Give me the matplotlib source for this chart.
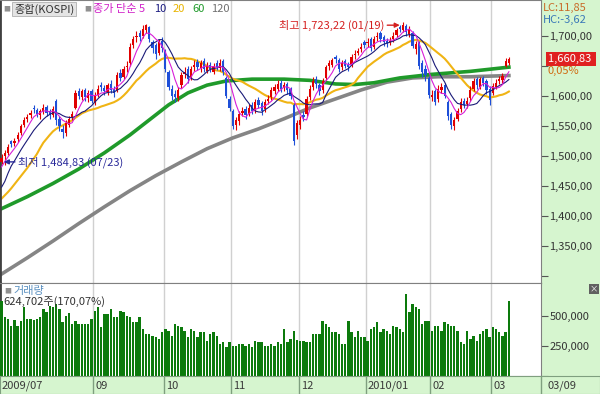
import numpy as np
import pandas as pd
import matplotlib
matplotlib.use("Agg")
import matplotlib.pyplot as plt

plt.rcParams['font.family'] = ['Noto Sans CJK KR', 'DejaVu Sans']

# ---- data (KOSPI daily, 2009-07-22 .. 2010-03-09) ----
opens = ([1490, 1500, 1505, 1524, 1522, 1528, 1538, 1552] +
         [1562, 1568, 1580, 1576, 1568, 1574, 1582, 1575, 1568, 1592, 1562, 1545, 1538, 1552, 1565, 1580, 1608, 1598, 1610, 1596, 1608] +
         [1590, 1602, 1618, 1614, 1606, 1620, 1612, 1610, 1638, 1632, 1648, 1655, 1685, 1698, 1705, 1700, 1710, 1715, 1690, 1685, 1672, 1692] +
         [1675, 1640, 1612, 1604, 1596, 1618, 1636, 1645, 1630, 1648, 1656, 1646, 1658, 1642, 1652, 1640, 1655, 1646, 1658, 1630, 1595] +
         [1575, 1552, 1558, 1572, 1578, 1570, 1585, 1577, 1594, 1588, 1578, 1592, 1598, 1608, 1612, 1622, 1614, 1620, 1612, 1585, 1535] +
         [1552, 1568, 1570, 1598, 1615, 1628, 1618, 1610, 1630, 1650, 1652, 1665, 1660, 1648, 1658, 1652, 1652, 1668, 1672, 1678, 1690] +
         [1688, 1695, 1682, 1698, 1705, 1698, 1692, 1690, 1695, 1702, 1715, 1710, 1716, 1704, 1705, 1678, 1690, 1655, 1645, 1630] +
         [1598, 1608, 1595, 1610, 1618, 1590, 1570, 1550, 1562, 1578, 1592, 1586, 1596, 1612, 1628, 1615, 1630, 1625, 1612] +
         [1605, 1615, 1625, 1626, 1650, 1655])
closes = ([1497, 1505, 1515, 1520, 1525, 1535, 1550, 1560] +
          [1565, 1572, 1578, 1570, 1575, 1580, 1572, 1570, 1578, 1560, 1550, 1540, 1555, 1562, 1570, 1605, 1600, 1608, 1598, 1605, 1592] +
          [1600, 1612, 1615, 1608, 1618, 1610, 1605, 1635, 1630, 1645, 1650, 1682, 1695, 1700, 1698, 1712, 1718, 1695, 1680, 1670, 1690, 1680] +
          [1645, 1615, 1600, 1598, 1610, 1635, 1640, 1628, 1645, 1652, 1648, 1655, 1645, 1650, 1645, 1650, 1648, 1655, 1640, 1600, 1580] +
          [1550, 1560, 1570, 1575, 1568, 1580, 1575, 1590, 1585, 1575, 1590, 1595, 1610, 1615, 1620, 1612, 1618, 1610, 1600, 1525, 1555] +
          [1560, 1565, 1595, 1612, 1625, 1620, 1608, 1625, 1648, 1655, 1660, 1662, 1645, 1655, 1650, 1648, 1665, 1670, 1675, 1682, 1685] +
          [1690, 1680, 1695, 1700, 1695, 1690, 1688, 1692, 1700, 1710, 1712, 1718, 1706, 1712, 1684, 1686, 1650, 1640, 1635, 1602] +
          [1602, 1590, 1612, 1615, 1600, 1567, 1552, 1560, 1575, 1590, 1585, 1592, 1610, 1625, 1618, 1628, 1622, 1610, 1594] +
          [1617, 1622, 1628, 1633, 1658, 1660.83])
highs = ([1503, 1510, 1519, 1527, 1530, 1540, 1553, 1565] +
         [1570, 1577, 1585, 1580, 1578, 1586, 1585, 1579, 1583, 1595, 1566, 1552, 1560, 1566, 1575, 1610, 1613, 1612, 1614, 1610, 1612] +
         [1606, 1618, 1624, 1619, 1622, 1626, 1616, 1640, 1645, 1650, 1658, 1688, 1700, 1708, 1710, 1718, 1720, 1716, 1694, 1688, 1695, 1698] +
         [1678, 1644, 1618, 1610, 1615, 1640, 1648, 1650, 1650, 1660, 1662, 1660, 1663, 1656, 1657, 1655, 1660, 1662, 1662, 1633, 1600] +
         [1578, 1565, 1575, 1582, 1583, 1586, 1590, 1595, 1598, 1592, 1595, 1602, 1615, 1620, 1626, 1627, 1624, 1624, 1615, 1588, 1560] +
         [1566, 1575, 1600, 1618, 1632, 1633, 1622, 1630, 1652, 1660, 1664, 1668, 1663, 1660, 1662, 1656, 1670, 1676, 1680, 1688, 1694] +
         [1696, 1698, 1700, 1706, 1708, 1702, 1696, 1698, 1706, 1714, 1719, 1723.22, 1720, 1716, 1708, 1692, 1692, 1660, 1652, 1634] +
         [1610, 1612, 1618, 1622, 1622, 1594, 1573, 1565, 1580, 1596, 1597, 1598, 1616, 1630, 1632, 1632, 1634, 1628, 1616] +
         [1622, 1628, 1634, 1638, 1664, 1665])
lows = ([1486, 1484.83, 1501, 1515, 1517, 1524, 1535, 1548] +
        [1556, 1563, 1572, 1565, 1562, 1570, 1566, 1562, 1565, 1552, 1541, 1530, 1533, 1548, 1560, 1578, 1595, 1594, 1592, 1590, 1588] +
        [1585, 1598, 1608, 1602, 1602, 1605, 1598, 1606, 1625, 1628, 1640, 1650, 1680, 1690, 1692, 1696, 1705, 1690, 1672, 1662, 1668, 1674] +
        [1640, 1610, 1594, 1590, 1592, 1614, 1630, 1622, 1626, 1642, 1643, 1640, 1640, 1638, 1640, 1636, 1643, 1642, 1635, 1596, 1575] +
        [1545, 1543, 1552, 1566, 1562, 1566, 1570, 1572, 1580, 1568, 1574, 1586, 1594, 1603, 1608, 1606, 1608, 1604, 1595, 1518, 1528] +
        [1545, 1558, 1566, 1594, 1610, 1614, 1602, 1605, 1626, 1644, 1648, 1655, 1640, 1644, 1646, 1642, 1648, 1662, 1668, 1674, 1680] +
        [1682, 1675, 1678, 1692, 1690, 1684, 1682, 1685, 1690, 1698, 1706, 1706, 1700, 1698, 1680, 1670, 1645, 1632, 1625, 1596] +
        [1592, 1585, 1590, 1605, 1596, 1560, 1545, 1544, 1558, 1574, 1580, 1580, 1592, 1608, 1612, 1612, 1616, 1604, 1585] +
        [1602, 1612, 1620, 1622, 1648, 1652])
# volume, thousands of shares
volume_k = ([625, 486, 472, 417, 464, 417, 458, 569] +
            [472, 472, 464, 472, 486, 556, 528, 583, 569, 597, 556, 444, 500, 519, 431, 458, 431, 431, 431, 431, 472] +
            [542, 575, 403, 514, 514, 556, 486, 486, 542, 528, 500, 486, 444, 444, 486, 389, 347, 347, 333, 319, 306, 361] +
            [389, 375, 333, 431, 417, 403, 375, 319, 389, 375, 319, 361, 361, 292, 347, 361, 333, 264, 278, 236, 278] +
            [250, 250, 264, 269, 250, 264, 236, 292, 278, 278, 250, 250, 264, 250, 278, 264, 389, 278, 306, 375, 297] +
            [292, 292, 278, 278, 347, 347, 347, 458, 431, 403, 361, 361, 347, 264, 264, 458, 361, 319, 375, 319, 319] +
            [292, 389, 403, 444, 361, 389, 375, 347, 417, 403, 389, 361, 675, 528, 597, 569, 556, 431, 458, 458] +
            [375, 417, 417, 375, 444, 431, 417, 417, 375, 278, 264, 375, 306, 333, 292, 347, 375, 389, 319] +
            [403, 389, 361, 333, 361, 624.702])
# closes before the first visible bar (needed for the 5/10/20-day averages)
prior_closes = [1395, 1405, 1398, 1390, 1400, 1410, 1425, 1430, 1418, 1425,
                1410, 1378, 1400, 1440, 1443, 1460, 1476, 1485, 1490]
# 60 / 120 day averages
ma60_idx = [0, 8, 16, 24, 32, 40, 46, 52, 58, 64, 70, 78, 88, 96, 104, 110, 116, 124, 134, 146, 158]
ma60_val = [1412, 1432, 1454, 1478, 1505, 1535, 1560, 1585, 1605, 1618, 1625, 1628, 1628, 1626, 1620,
            1619, 1622, 1630, 1636, 1641, 1648]
ma120_idx = [0, 8, 16, 24, 32, 40, 48, 56, 64, 72, 80, 88, 96, 104, 112, 120, 128, 136, 146, 158]
ma120_val = [1303, 1330, 1358, 1387, 1415, 1442, 1467, 1490, 1512, 1530, 1545, 1562, 1580, 1595,
             1610, 1623, 1630, 1632, 1632, 1634]
month_labels = ["2009/07", "09", "10", "11", "12", "2010/01", "02", "03"]
month_first_bar = [0, 29, 51, 72, 93, 114, 134, 153]

# ---- figure ----
W, H = 600, 394
GREEN_BG = '#d6f5cf'
fig = plt.figure(figsize=(6, 3.94), dpi=100, facecolor=GREEN_BG)


def fx(px):
    return px / W


def fy(py):
    return 1 - py / H


ax = fig.add_axes([0, fy(283), fx(541), 283 / H], facecolor='white')
axv = fig.add_axes([0, fy(376), fx(541), (376 - 283) / H], facecolor='white')
axd = fig.add_axes([0, 0, 1, 18 / H], facecolor=GREEN_BG)

n = len(closes)
x = np.arange(n)
o = np.array(opens, float)
c = np.array(closes, float)
hi = np.array(highs, float)
lo = np.array(lows, float)
XLIM = (-0.5, 168)

# month grid
for b in month_first_bar[1:]:
    for a in (ax, axv):
        a.axvline(b - 0.5, color='#d0d0d0', lw=1, zorder=0)

# candles
up = c >= o
col = np.where(up, '#e00000', '#1e4fd8')
ax.vlines(x, lo, hi, colors=col, lw=0.8, zorder=3)
body = np.maximum(np.abs(c - o), 0.9)
ax.bar(x, body, bottom=np.minimum(o, c), width=0.7, color=col, linewidth=0, zorder=3)

# moving averages
allc = pd.Series(prior_closes + closes, dtype=float)
k = len(prior_closes)
ma5 = allc.rolling(5).mean().values[k:]
ma10 = allc.rolling(10).mean().values[k:]
ma20 = allc.rolling(20).mean().values[k:]
ax.plot(ma120_idx, ma120_val, color='#858585', lw=2.6, zorder=2, solid_joinstyle='round')
ax.plot(ma60_idx, ma60_val, color='#1f9a2a', lw=2.6, zorder=2, solid_joinstyle='round')
ax.plot(x, ma20, color='#f0b414', lw=1.5, zorder=2)
ax.plot(x, ma10, color='#1a1a78', lw=0.8, zorder=4)
ax.plot(x, ma5, color='#d81ed8', lw=0.8, zorder=4)

ax.set_xlim(*XLIM)
ax.set_ylim(1288, 1760)
ax.set_xticks([])
ax.yaxis.tick_right()
yt = [1300, 1350, 1400, 1450, 1500, 1550, 1600, 1650, 1700]
ax.set_yticks(yt)
ax.set_yticklabels(['' if v in (1300, 1650) else f"{v:,.2f}".replace('.', ',') for v in yt])
ax.tick_params(axis='y', direction='out', length=5, width=0.8, color='#555555',
               labelsize=8, labelcolor='#333333', pad=1)
for s in ax.spines.values():
    s.set_color('#808080')
ax.spines['left'].set_color('#404040')
ax.spines['left'].set_linewidth(2)

# annotations
peak_i = int(np.argmax(hi))
ax.annotate('최고 1,723,22 (01/19)', xy=(peak_i - 1.0, 1718), xytext=(-11, 0),
            textcoords='offset points', ha='right', va='center', color='#d42020', fontsize=8,
            arrowprops=dict(arrowstyle='-|>', color='#d42020', lw=1, mutation_scale=7,
                            shrinkA=0, shrinkB=0), zorder=6)
low_i = int(np.argmin(lo))
ax.annotate('최저 1,484,83 (07/23)', xy=(low_i - 0.3, 1490), xytext=(10, 0),
            textcoords='offset points', ha='left', va='center', color='#2a2a9a', fontsize=8,
            arrowprops=dict(arrowstyle='-|>', color='#2a2a9a', lw=1, mutation_scale=7,
                            shrinkA=0, shrinkB=0), zorder=6)

# volume
vol = np.array(volume_k) * 1000
axv.bar(x, vol, width=0.74, color='#0c7a0c', linewidth=0, zorder=3)
axv.set_xlim(*XLIM)
axv.set_ylim(0, 770000)
axv.set_xticks([])
axv.yaxis.tick_right()
axv.set_yticks([0, 250000, 500000])
axv.set_yticklabels(['', '250,000', '500,000'])
axv.tick_params(axis='y', direction='out', length=5, width=0.8, color='#555555',
                labelsize=8, labelcolor='#333333', pad=1)
for s in axv.spines.values():
    s.set_color('#808080')
axv.spines['left'].set_color('#404040')
axv.spines['left'].set_linewidth(2)

# date strip
axd.set_xlim(0, W)
axd.set_ylim(0, 1)
axd.set_xticks([])
axd.set_yticks([])
for s in axd.spines.values():
    s.set_color('#7f9f7f')
px_per_bar = 541 / (XLIM[1] - XLIM[0])
for lab, b in zip(month_labels, month_first_bar):
    xp = (b - 0.5 - XLIM[0]) * px_per_bar
    if b > 0:
        axd.axvline(xp, color='#7f9f7f', lw=1)
    axd.text(xp + 2, 0.45, lab, ha='left', va='center', fontsize=8, color='#3a3a3a')
axd.axvline(541, color='#7f9f7f', lw=1)
axd.text(548, 0.45, '03/09', ha='left', va='center', fontsize=8, color='#3a3a3a')

# header / legend texts
fig.text(fx(3), fy(9), '■', fontsize=5, color='#909090', va='center')
fig.text(fx(14), fy(9), '종합(KOSPI)', fontsize=8, color='#333333', va='center',
         bbox=dict(facecolor='#e4e4e4', edgecolor='#b0b0b0', pad=1.2, lw=0.6))
fig.text(fx(84), fy(9), '■', fontsize=5, color='#909090', va='center')
for txt, xp, cc in [('종가 단순 5', 93, '#d020c8'), ('10', 154, '#1a1a80'), ('20', 173, '#e8b400'),
                    ('60', 192, '#1f9a2a'), ('120', 211, '#707070')]:
    fig.text(fx(xp), fy(9), txt, fontsize=8, color=cc, va='center')

fig.text(fx(543), fy(8), 'LC:11,85', fontsize=8, color='#c86a28', va='center')
fig.text(fx(543), fy(20), 'HC:-3,62', fontsize=8, color='#3a78b8', va='center')
fig.text(fx(548), fy(59), '1,660,83 ', fontsize=8, color='white', va='center',
         bbox=dict(facecolor='#e02020', edgecolor='none', pad=1.3))
fig.text(fx(548), fy(71), '0,05%', fontsize=8, color='#d06a10', va='center')

fig.text(fx(4), fy(291), '■', fontsize=5, color='#909090', va='center')
fig.text(fx(13), fy(291), '거래량', fontsize=8, color='#5a90c0', va='center')
fig.text(fx(3), fy(302), '624,702주(170,07%)', fontsize=8, color='#333333', va='center')
fig.text(fx(590), fy(289), '×', fontsize=6, color='white', va='center',
         bbox=dict(facecolor='#606060', edgecolor='none', pad=0.6))

fig.savefig('out.png', dpi=100, facecolor=fig.get_facecolor())
